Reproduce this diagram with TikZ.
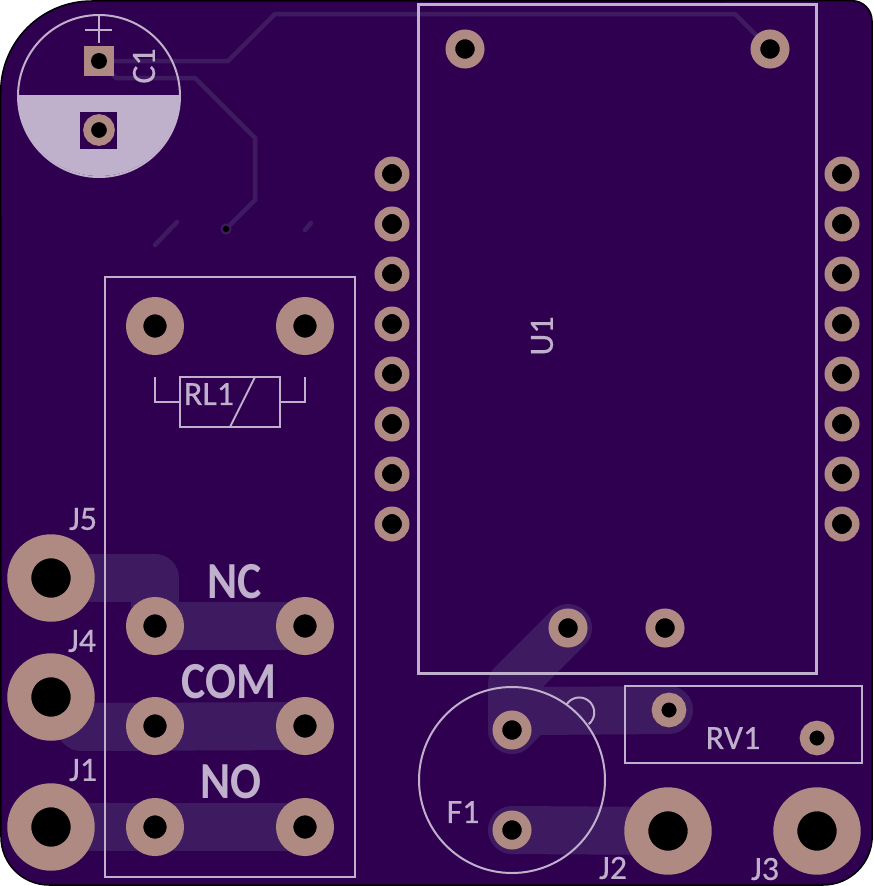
\documentclass[tikz,border=0pt]{standalone}
\usepackage{fontspec}
\setmainfont{Carlito}
\newfontfamily\silkfont[FakeBold=0.4]{Carlito}
\newfontfamily\funcfont[FakeStretch=0.88]{Carlito Bold}
\usetikzlibrary{backgrounds}
\definecolor{boardcol}{HTML}{300050}
\definecolor{tracecol}{HTML}{3E1A60}
\definecolor{coppercol}{HTML}{AE8A82}
\definecolor{silkcol}{HTML}{BFB0CC}
\tikzset{
  relaypad/.style={shape=circle, inner sep=0pt, outer sep=0pt, draw=coppercol, fill=black, line width=17.3pt, minimum size=40.7pt},
  bigpad/.style={shape=circle, inner sep=0pt, outer sep=0pt, draw=coppercol, fill=black, line width=24pt, minimum size=63.4pt},
  smallpad/.style={shape=circle, inner sep=0pt, outer sep=0pt, draw=coppercol, fill=black, line width=9.7pt, minimum size=29.3pt},
  headerpad/.style={shape=circle, inner sep=0pt, outer sep=0pt, draw=coppercol, fill=black, line width=7.5pt, minimum size=27.5pt},
  potpad/.style={shape=circle, inner sep=0pt, outer sep=0pt, draw=coppercol, fill=black, line width=9.6pt, minimum size=25pt},
  viahole/.style={shape=circle, inner sep=0pt, outer sep=0pt, draw=tracecol, fill=black, line width=2pt, minimum size=9pt},
  wide/.style={draw=tracecol, line width=48pt, line cap=round, line join=round},
  thin/.style={draw=tracecol, line width=4.5pt, line cap=round, line join=miter},
  silk/.style={draw=silkcol, line width=2pt},
  ref/.style={text=silkcol, inner sep=0pt, font=\silkfont\fontsize{34}{34}\selectfont},
  func/.style={text=silkcol, inner sep=0pt, font=\funcfont\fontsize{52}{52}\selectfont},
}
\begin{document}
\begin{tikzpicture}[x=1pt, y=-1pt]
\useasboundingbox (0,0) rectangle (873,886);

% connectors
\node [bigpad] (J5) at (51,578) {};
\node [bigpad] (J4) at (51,697) {};
\node [bigpad] (J1) at (51,827) {};
\node [bigpad] (J2) at (668,831) {};
\node [bigpad] (J3) at (817,831) {};

% relay
\node [relaypad] (RLa) at (155,326) {};
\node [relaypad] (RLb) at (305,326) {};
\node [relaypad] (RLc) at (155,626) {};
\node [relaypad] (RLd) at (305,626) {};
\node [relaypad] (RLe) at (155,726) {};
\node [relaypad] (RLf) at (305,726) {};
\node [relaypad] (RLg) at (155,827) {};
\node [relaypad] (RLh) at (305,827) {};

% module
\node [smallpad] (Ua) at (465,49) {};
\node [smallpad] (Ub) at (770,49) {};
\node [headerpad] (Uc) at (392,174) {};
\node [headerpad] (Ud) at (392,224) {};
\node [headerpad] (Ue) at (392,274) {};
\node [headerpad] (Uf) at (392,324) {};
\node [headerpad] (Ug) at (392,374) {};
\node [headerpad] (Uh) at (392,424) {};
\node [headerpad] (Ui) at (392,474) {};
\node [headerpad] (Uj) at (392,524) {};
\node [headerpad] (Uk) at (842,174) {};
\node [headerpad] (Ul) at (842,224) {};
\node [headerpad] (Um) at (842,274) {};
\node [headerpad] (Un) at (842,324) {};
\node [headerpad] (Uo) at (842,374) {};
\node [headerpad] (Up) at (842,424) {};
\node [headerpad] (Uq) at (842,474) {};
\node [headerpad] (Ur) at (842,524) {};
\node [smallpad] (Us) at (568,628) {};
\node [smallpad] (Ut) at (665,628) {};

% fuse, trimmer, via
\node [smallpad] (Fa) at (512,730) {};
\node [smallpad] (Fb) at (512,830) {};
\node [potpad] (RVa) at (669,710) {};
\node [potpad] (RVb) at (817,738) {};
\node [viahole] (via) at (226,229) {};

% capacitor
\fill [silkcol] (18,95) arc [start angle=180, end angle=360, radius=81pt] -- cycle;
\fill [boardcol] (80,112) rectangle (117,149);
\draw [silk] (99,96) circle [radius=81pt];
\draw [silk] (99,15) -- (99,43);
\draw [silk] (85,30) -- (112,30);
\node [shape=rectangle, fill=coppercol, minimum size=30pt, inner sep=0pt] (C1a) at (99,61) {};
\node [shape=circle, fill=black, minimum size=16pt, inner sep=0pt] at (99,61) {};
\node [potpad, line width=7.8pt, minimum size=23.8pt] (C1b) at (99,130) {};

\begin{pgfonlayer}{background}
\fill [boardcol, draw=black, line width=1.5pt] (0.7,92) arc [start angle=180, end angle=90, radius=91pt]
  -- (852,0.7) arc [start angle=90, end angle=0, radius=20pt]
  -- (872.2,836) arc [start angle=0, end angle=-90, radius=49pt]
  -- (49,885) arc [start angle=270, end angle=180, radius=48pt] -- cycle;

\draw [wide] (J5.center) -- (155,578) -- (RLc.center) -- (RLd.center);
\draw [wide] (J4.center) -- (81,727) -- (RLf.center);
\draw [wide] (J1.center) -- (RLh.center);
\draw [wide] (Fa.center) -- (512,684) -- (Us.center);
\draw [wide] (Fa.center) -- (531,711) -- (RVa.center);
\draw [wide] (Fb.center) -- (J2.center);

\draw [thin] (C1a.center) -- (228,61) -- (275,14) -- (735,14) -- (Ub.center);
\draw [thin] (C1a.center) -- (116,78) -- (195,78) -- (255,138) -- (255,200) -- (via.center);
\coordinate (stubA) at (155,245);
\coordinate (stubB) at (177,222);
\coordinate (stubC) at (305,230);
\coordinate (stubD) at (311,223);
\draw [thin] (stubA) -- (stubB);
\draw [thin] (stubC) -- (stubD);
\end{pgfonlayer}

% outlines
\draw [silk] (105,277) rectangle (355,877);
\draw [silk, line width=3pt] (418,4) rectangle (816.5,673);
\draw [silk, line width=2.5pt] (625,686) rectangle (862,763);
\draw [silk] (512,780) circle [radius=93pt];
\draw [silk] (566.7,704.3) arc [start angle=147, end angle=-51, radius=15pt];
\draw [silk] (180,377) rectangle (280,427);
\draw [silk] (155,377) -- (155,402) -- (180,402);
\draw [silk] (305,377) -- (305,402) -- (280,402);
\draw [silk] (255,377) -- (230,427);

% labels
\node [ref] (lJ5) at (83,519) {J5};
\node [ref] (lJ4) at (82,641) {J4};
\node [ref] (lJ1) at (83,770) {J1};
\node [ref] (lJ2) at (613,868) {J2};
\node [ref] (lJ3) at (765,869) {J3};
\node [ref] (lF1) at (463,812) {F1};
\node [ref] (lRV) at (733,738) {RV1};
\node [ref] (lRL) at (209,394) {RL1};
\node [ref, rotate=90] (lU1) at (542,336) {U1};
\node [ref, rotate=90] (lC1) at (144,66) {C1};
\node [func] (lNC) at (235,582) {NC};
\node [func] (lCOM) at (229,682) {COM};
\node [func] (lNO) at (231,782) {NO};
\end{tikzpicture}
\end{document}
